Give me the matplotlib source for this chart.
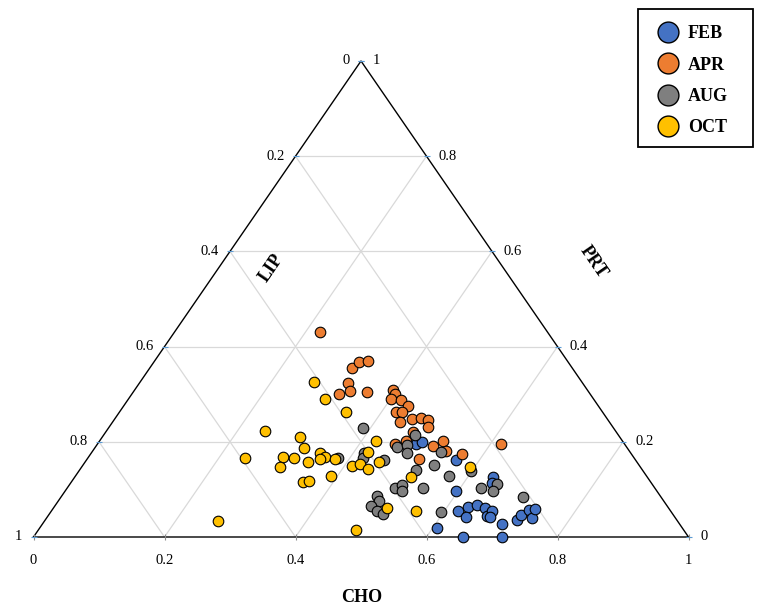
import numpy as np
import matplotlib
matplotlib.use('Agg')
import matplotlib.pyplot as plt
from matplotlib.lines import Line2D
from matplotlib.patches import Rectangle

plt.rcParams['font.family'] = ['Liberation Serif', 'DejaVu Serif']

# Ternary data: CHO (bottom) and PRT (right), LIP = 1 - CHO - PRT
feb_cho = [0.486, 0.493, 0.564, 0.597, 0.639, 0.643, 0.607, 0.621, 0.632, 0.639, 0.644, 0.660,
           0.670, 0.673, 0.676, 0.702, 0.720, 0.722, 0.728, 0.741, 0.737, 0.655, 0.716]
feb_prt = [0.195, 0.200, 0.162, 0.097, 0.126, 0.113, 0.019, 0.055, 0.062, 0.042, 0.067, 0.060,
           0.044, 0.054, 0.042, 0.027, 0.035, 0.046, 0.057, 0.039, 0.058, 0.000, 0.000]

apr_cho = [0.223, 0.309, 0.314, 0.325, 0.318, 0.329, 0.316, 0.356, 0.394, 0.402, 0.401, 0.418,
           0.434, 0.422, 0.432, 0.438, 0.454, 0.467, 0.480, 0.487, 0.470, 0.455, 0.468, 0.514,
           0.524, 0.540, 0.567, 0.507, 0.615]
apr_prt = [0.430, 0.356, 0.367, 0.370, 0.324, 0.307, 0.301, 0.305, 0.309, 0.300, 0.290, 0.287,
           0.275, 0.262, 0.262, 0.242, 0.247, 0.249, 0.246, 0.231, 0.220, 0.195, 0.202, 0.191,
           0.201, 0.181, 0.175, 0.164, 0.196]

aug_cho = [0.388, 0.417, 0.420, 0.381, 0.454, 0.460, 0.474, 0.482, 0.476, 0.533, 0.535, 0.514,
           0.570, 0.599, 0.632, 0.652, 0.653, 0.705, 0.595, 0.501, 0.508, 0.514, 0.543, 0.481,
           0.490, 0.483, 0.497, 0.510]
aug_prt = [0.229, 0.176, 0.166, 0.167, 0.162, 0.190, 0.193, 0.176, 0.214, 0.178, 0.152, 0.141,
           0.128, 0.139, 0.102, 0.111, 0.096, 0.085, 0.053, 0.102, 0.110, 0.096, 0.102, 0.087,
           0.075, 0.065, 0.054, 0.048]

oct_cho = [0.266, 0.301, 0.345, 0.242, 0.301, 0.422, 0.319, 0.240, 0.296, 0.314, 0.303, 0.340,
           0.349, 0.361, 0.356, 0.378, 0.422, 0.411, 0.422, 0.439, 0.449, 0.390, 0.354, 0.362,
           0.510, 0.264, 0.485, 0.557, 0.513, 0.593]
oct_prt = [0.326, 0.289, 0.263, 0.223, 0.211, 0.202, 0.188, 0.166, 0.169, 0.167, 0.147, 0.157,
           0.176, 0.169, 0.163, 0.164, 0.178, 0.149, 0.153, 0.142, 0.157, 0.128, 0.116, 0.118,
           0.060, 0.034, 0.015, 0.055, 0.126, 0.147]

months = ['FEB', 'APR', 'AUG', 'OCT']
colors = ['#4472C4', '#ED7D31', '#7F7F7F', '#FFC000']
series = [(feb_cho, feb_prt), (apr_cho, apr_prt), (aug_cho, aug_prt), (oct_cho, oct_prt)]
ticks = [0, 0.2, 0.4, 0.6, 0.8, 1]


def tern(cho, prt):
    # ternary -> cartesian (x along the base, y = PRT height)
    cho = np.asarray(cho, dtype=float)
    prt = np.asarray(prt, dtype=float)
    return cho + prt / 2, prt


W, H = 757, 607
fig = plt.figure(figsize=(W / 100, H / 100), dpi=100)
# axes box = bounding box of the triangle in pixels
x0, x1, ytop, ybot = 33.5, 688.5, 61, 537
ax = fig.add_axes([x0 / W, 1 - ybot / H, (x1 - x0) / W, (ybot - ytop) / H])
ax.set_xlim(0, 1)
ax.set_ylim(0, 1)
ax.axis('off')

# grid lines
grid_kw = dict(color='#D9D9D9', lw=0.9, zorder=1)
for v in ticks[1:-1]:
    # constant PRT
    gx, gy = tern([0, 1 - v], [v, v])
    ax.plot(gx, gy, **grid_kw)
    # constant CHO
    gx, gy = tern([v, v], [0, 1 - v])
    ax.plot(gx, gy, **grid_kw)
    # constant LIP
    gx, gy = tern([0, 1 - v], [1 - v, 0])
    ax.plot(gx, gy, **grid_kw)

# triangle outline
tx, ty = tern([0, 1, 0, 0], [0, 0, 1, 0])
ax.plot(tx, ty, color='black', lw=1.0, zorder=2, clip_on=False)

# tick labels and small tick marks
lab_kw = dict(textcoords='offset pixels', fontsize=10.5, annotation_clip=False)
for v in ticks:
    lab = '%g' % v
    # CHO on the base
    px, py = tern(v, 0)
    ax.annotate(lab, (px, py), xytext=(0, -24), ha='center', va='center', **lab_kw)
    ax.plot(px, py, marker='|', ms=4, color='#8C8C8C', mew=0.8, zorder=3, clip_on=False)
    # LIP on the left side
    px, py = tern(0, 1 - v)
    ax.annotate(lab, (px, py), xytext=(-11, 0), ha='right', va='center', **lab_kw)
    ax.plot(px, py, marker='_', ms=4, color='#5B9BD5', mew=0.8, zorder=3, clip_on=False)
    # PRT on the right side
    px, py = tern(1 - v, v)
    ax.annotate(lab, (px, py), xytext=(12, 0), ha='left', va='center', **lab_kw)
    ax.plot(px, py, marker='_', ms=4, color='#5B9BD5', mew=0.8, zorder=3, clip_on=False)

# axis titles
fig.text(362 / W, 1 - 598 / H, 'CHO', fontsize=13, fontweight='bold', ha='center', va='center')
fig.text(271 / W, 1 - 268 / H, 'LIP', fontsize=13, fontweight='bold', ha='center', va='center',
         rotation=55.5)
fig.text(593 / W, 1 - 262 / H, 'PRT', fontsize=13, fontweight='bold', ha='center', va='center',
         rotation=-55.5)

# data points
for (cho, prt), name, col in zip(series, months, colors):
    sx, sy = tern(cho, prt)
    ax.scatter(sx, sy, s=58, color=col, edgecolors='black', linewidths=0.8, zorder=4,
               clip_on=False, label=name)

# legend (frame drawn separately so the padding can match)
handles = [Line2D([], [], ls='none', marker='o', ms=15, markerfacecolor=c,
                  markeredgecolor='black', markeredgewidth=1.0) for c in colors]
fig.legend(handles, months, loc='upper left', bbox_to_anchor=(661 / W, 1 - 25.5 / H),
           frameon=False, prop={'family': 'Liberation Serif', 'weight': 'bold', 'size': 13},
           labelspacing=0.79, handletextpad=0.72, borderpad=0, borderaxespad=0,
           handlelength=0.78)
fig.add_artist(Rectangle((638 / W, 1 - 147 / H), 115 / W, 138 / H, transform=fig.transFigure,
                         fill=False, edgecolor='black', lw=1.3))

fig.savefig('out.png', dpi=100)
